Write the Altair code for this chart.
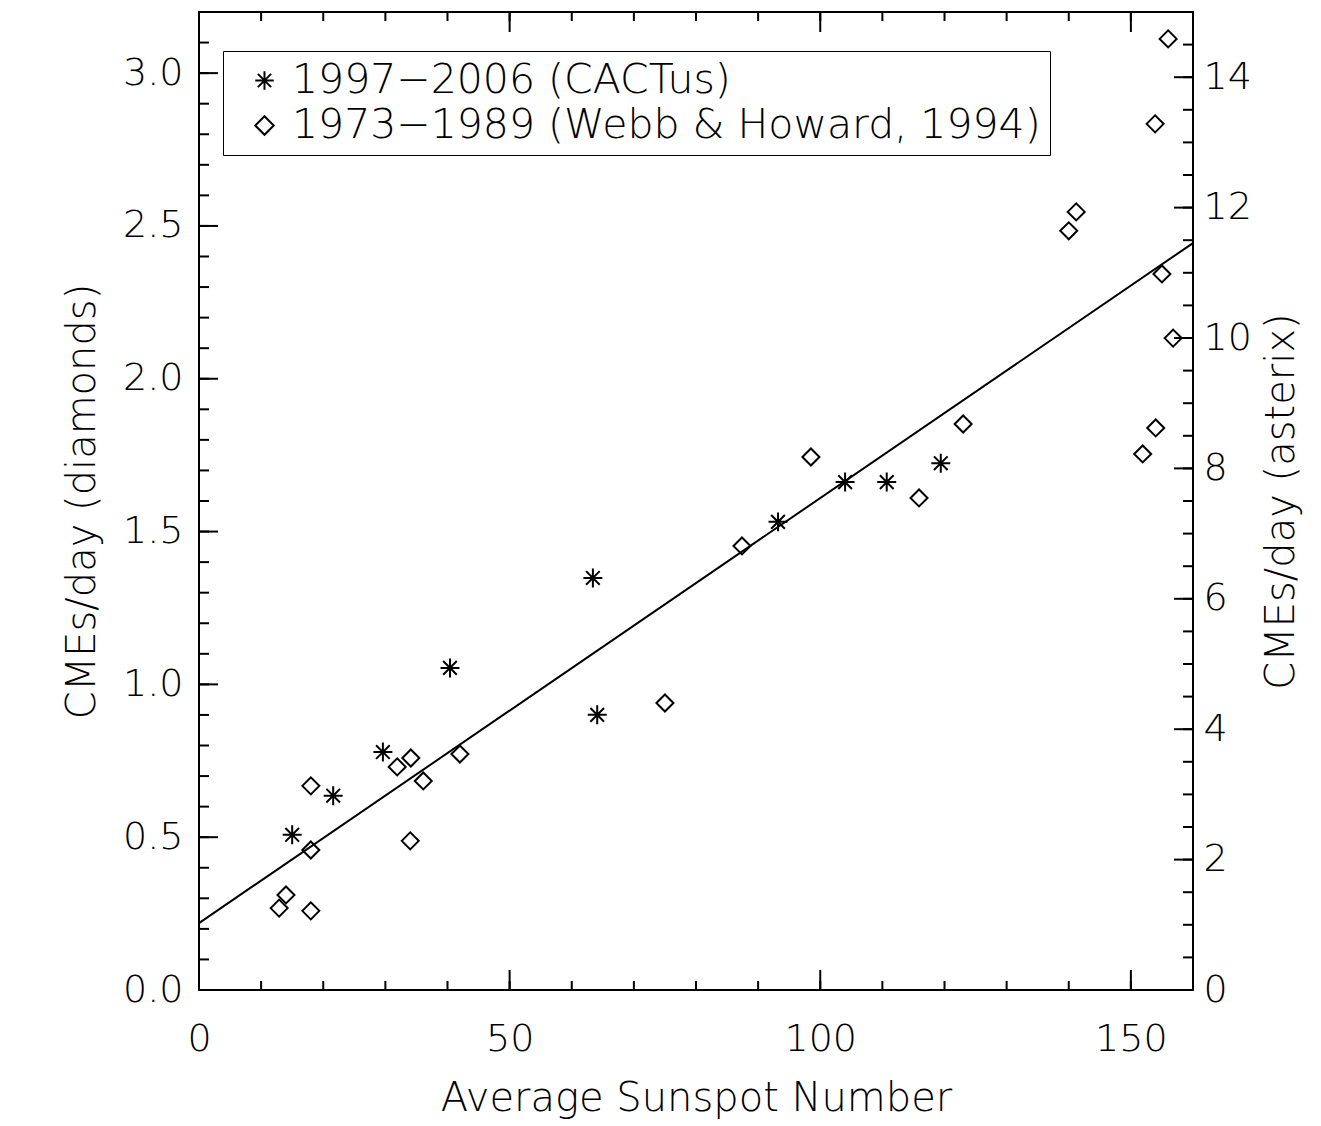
import altair as alt
import pandas as pd

# ---- data ----
CACTUS = "1997\u22122006 (CACTus)"
WH = "1973\u22121989 (Webb & Howard, 1994)"

# Webb & Howard (1994): diamonds, left axis (CMEs/day)
wh_sunspot = [12.9, 14.0, 18.0, 18.0, 18.0, 31.9, 34.1, 36.1, 34.0, 42.0, 75.0, 87.4,
              98.5, 115.9, 123.0, 151.9, 154.0, 156.0, 153.9, 141.2, 140.0, 155.0, 156.8]
wh_rate = [0.268, 0.311, 0.259, 0.458, 0.668, 0.730, 0.759, 0.684, 0.488, 0.772, 0.939, 1.453,
           1.744, 1.610, 1.852, 1.754, 1.839, 3.112, 2.834, 2.546, 2.484, 2.343, 2.133]

# CACTus (1997-2006): asterisks, right axis (CMEs/day)
cactus_sunspot = [15.0, 21.6, 29.6, 40.4, 63.4, 64.1, 93.2, 104.0, 110.7, 119.4]
cactus_rate = [2.38, 2.98, 3.65, 4.94, 6.32, 4.22, 7.18, 7.79, 7.79, 8.08]

# linear fit (left axis units)
fit_sunspot = [0, 160]
fit_rate = [0.219, 2.444]

# axis ticks
x_major = [0, 50, 100, 150]
x_minor = [0, 10, 20, 30, 40, 50, 60, 70, 80, 90, 100, 110, 120, 130, 140, 150, 160]
left_major = [0.0, 0.5, 1.0, 1.5, 2.0, 2.5, 3.0]
left_minor = [0.0, 0.1, 0.2, 0.3, 0.4, 0.5, 0.6, 0.7, 0.8, 0.9, 1.0, 1.1, 1.2, 1.3, 1.4, 1.5,
              1.6, 1.7, 1.8, 1.9, 2.0, 2.1, 2.2, 2.3, 2.4, 2.5, 2.6, 2.7, 2.8, 2.9, 3.0, 3.1, 3.2]
right_major = [0, 2, 4, 6, 8, 10, 12, 14]
right_minor = [0, 0.5, 1, 1.5, 2, 2.5, 3, 3.5, 4, 4.5, 5, 5.5, 6, 6.5, 7, 7.5, 8, 8.5, 9, 9.5,
               10, 10.5, 11, 11.5, 12, 12.5, 13, 13.5, 14, 14.5, 15]

# ---- chart ----
W, H = 994, 978
FONT = "DejaVu Sans"
FW = 200
FS = 38
ASTERISK = "M-1,0L1,0M0,-1L0,1M-0.72,-0.72L0.72,0.72M-0.72,0.72L0.72,-0.72"

df_wh = pd.DataFrame({"sunspot": wh_sunspot, "rate": wh_rate, "series": WH})
df_ca = pd.DataFrame({"sunspot": cactus_sunspot, "rate": cactus_rate, "series": CACTUS})
df_fit = pd.DataFrame({"sunspot": fit_sunspot, "rate": fit_rate})

xscale = alt.Scale(domain=[0, 160], nice=False, zero=False)
yl_scale = alt.Scale(domain=[0, 3.2], nice=False)
yr_scale = alt.Scale(domain=[0, 15], nice=False)
shape_scale = alt.Scale(domain=[CACTUS, WH], range=[ASTERISK, "diamond"])

legend = alt.Legend(title=None, orient="none", legendX=24, legendY=39,
                    strokeColor="black", fillColor="white", padding=9,
                    labelFontSize=41, labelFont=FONT, labelFontWeight=FW, labelColor="black",
                    labelLimit=0,
                    symbolSize=340, symbolStrokeWidth=2, symbolStrokeColor="black",
                    labelOffset=7, rowPadding=3, symbolOffset=12)

x_axis = alt.Axis(values=x_major, tickSize=0, domain=False, grid=False, labelPadding=30,
                  labelFlush=False, title="Average Sunspot Number", titlePadding=20)

fit = alt.Chart(df_fit).mark_line(color="black", strokeWidth=2).encode(
    x=alt.X("sunspot:Q", scale=xscale, axis=x_axis),
    y=alt.Y("rate:Q", scale=yl_scale, axis=None),
)

diamonds = alt.Chart(df_wh).mark_point(filled=False, size=289, strokeWidth=2, color="black", opacity=1).encode(
    x=alt.X("sunspot:Q", scale=xscale, axis=x_axis),
    y=alt.Y("rate:Q", scale=yl_scale,
            axis=alt.Axis(orient="left", values=left_major, format=".1f", tickSize=0, domain=False,
                          grid=False, labelPadding=16, title="CMEs/day (diamonds)", titlePadding=20)),
    shape=alt.Shape("series:N", scale=shape_scale, legend=legend),
)

asterisks = alt.Chart(df_ca).mark_point(filled=False, size=360, strokeWidth=2, color="black", opacity=1).encode(
    x=alt.X("sunspot:Q", scale=xscale, axis=x_axis),
    y=alt.Y("rate:Q", scale=yr_scale,
            axis=alt.Axis(orient="right", values=right_major, format="d", tickSize=0, domain=False,
                          grid=False, labelPadding=10, title="CMEs/day (asterix)", titleAngle=270,
                          titlePadding=50)),
    shape=alt.Shape("series:N", scale=shape_scale, legend=legend),
)


def yticks(values, scale, x0, x1):
    return alt.Chart(pd.DataFrame({"v": values})).mark_rule(color="black", strokeWidth=2).encode(
        y=alt.Y("v:Q", scale=scale, axis=None), x=alt.value(x0), x2=alt.value(x1))


def xticks(values, y0, y1):
    return alt.Chart(pd.DataFrame({"sunspot": values})).mark_rule(color="black", strokeWidth=2).encode(
        x=alt.X("sunspot:Q", scale=xscale, axis=x_axis), y=alt.value(y0), y2=alt.value(y1))


layers = [
    fit, diamonds, asterisks,
    yticks(left_minor, yl_scale, 0, 10),
    yticks(left_major, yl_scale, 0, 19),
    yticks(right_minor, yr_scale, W - 10, W),
    yticks(right_major, yr_scale, W - 19, W),
    xticks(x_minor, H, H - 9),
    xticks(x_major, H, H - 20),
    xticks(x_minor, 0, 9),
    xticks(x_major, 0, 20),
]

chart = alt.layer(*layers).resolve_scale(y="independent").properties(
    width=W, height=H,
    autosize=alt.AutoSizeParams(type="none"),
    padding={"left": 191, "top": 4, "right": 120, "bottom": 134},
    background="white",
).configure_view(stroke="black", strokeWidth=2).configure_axis(
    labelFont=FONT, titleFont=FONT, labelFontSize=FS, titleFontSize=40,
    labelFontWeight=FW, titleFontWeight=FW, labelColor="black", titleColor="black",
)

chart.save("out.html", embed_options={"renderer": "svg", "actions": False})
